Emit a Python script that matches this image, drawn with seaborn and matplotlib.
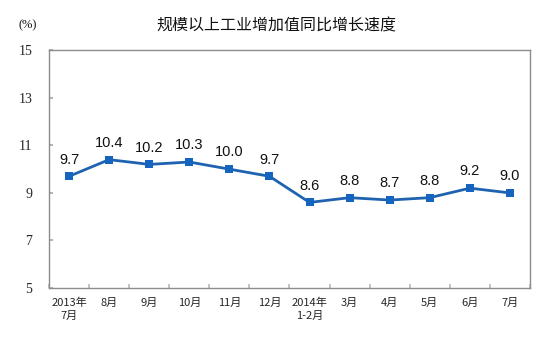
import matplotlib
matplotlib.use("Agg")
import matplotlib.pyplot as plt
import seaborn as sns
import pandas as pd
import numpy as np

categories = ["2013年\n7月", "8月", "9月", "10月", "11月", "12月", "2014年\n1-2月",
              "3月", "4月", "5月", "6月", "7月"]
values = [9.7, 10.4, 10.2, 10.3, 10.0, 9.7, 8.6, 8.8, 8.7, 8.8, 9.2, 9.0]
yticks = [5, 7, 9, 11, 13, 15]
title = "规模以上工业增加值同比增长速度"

sns.set_theme(style="white")
plt.rcParams['font.family'] = ['Noto Sans CJK SC', 'DejaVu Sans']

df = pd.DataFrame({"idx": np.arange(len(categories)), "value": values})

fig = plt.figure(figsize=(5.41, 3.40), dpi=100)
ax = fig.add_axes([0.0906, 0.153, 0.889, 0.699])

line_color = "#1f63b0"
sns.lineplot(data=df, x="idx", y="value", ax=ax, color=line_color, linewidth=2.0,
             marker="s", markersize=5.5, markeredgewidth=0, markerfacecolor="#1565c0")

ax.set_xlim(-0.5, len(categories) - 0.5)
ax.set_ylim(5, 15)
ax.set_xlabel("")
ax.set_ylabel("")

# y ticks
ax.set_yticks(yticks)
ax.set_yticklabels([str(t) for t in yticks], family=["Liberation Serif"], fontsize=10)
ax.tick_params(axis="y", direction="in", length=3, color="#aaaaaa", pad=12, left=True)

# x: boundary ticks (major) and labels at centres (minor)
ax.set_xticks(np.arange(-0.5, len(categories) - 0.4, 1.0))
ax.set_xticklabels([])
ax.tick_params(axis="x", which="major", direction="in", length=3, color="#bbbbbb", bottom=True)
ax.set_xticks(np.arange(len(categories)), minor=True)
ax.set_xticklabels(categories, minor=True, fontsize=8, linespacing=1.35)
ax.tick_params(axis="x", which="minor", length=0, pad=7)

for s in ax.spines.values():
    s.set_color("#8c8c8c")
    s.set_linewidth(1.0)

for i, v in enumerate(values):
    ax.annotate(f"{v:.1f}", (i, v), xytext=(0, 7), textcoords="offset points",
                ha="center", va="bottom", fontsize=10.5, family=["Liberation Sans"],
                color="#111111")

fig.text(0.51, 0.925, title, ha="center", va="center", fontsize=11.5, color="#111111")
fig.text(0.052, 0.925, "(%)", ha="center", va="center", fontsize=9,
         family=["Liberation Serif"], color="#111111")

fig.savefig("out.png", dpi=100)
